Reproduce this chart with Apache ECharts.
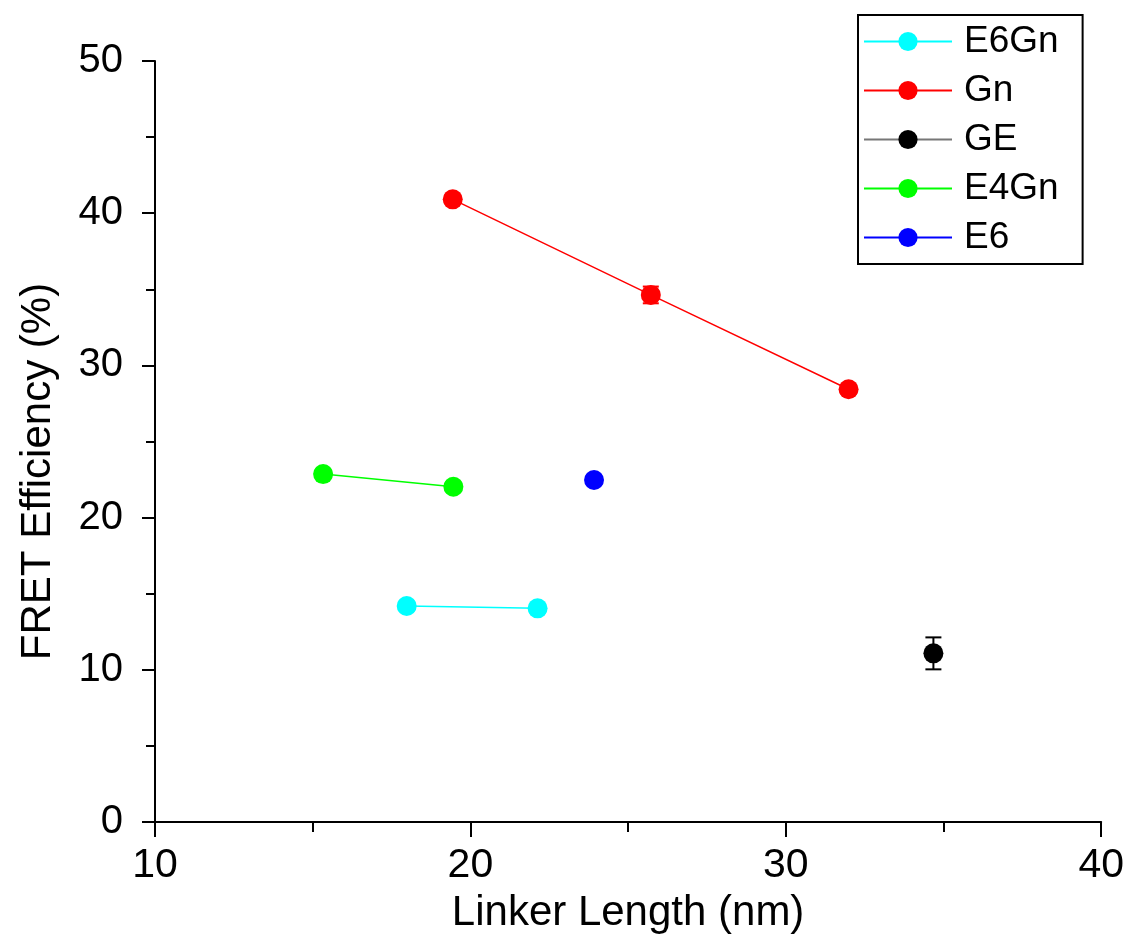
<!DOCTYPE html>
<html><head><meta charset="utf-8">
<script src="https://cdn.jsdelivr.net/npm/echarts@6/dist/echarts.min.js"></script>
<style>html,body{margin:0;padding:0;background:#fff}#c{width:1127px;height:941px}</style>
</head><body><div id="c"></div>
<script>
// ---- data ----
const seriesNames = ['E6Gn', 'Gn', 'GE', 'E4Gn', 'E6'];
const e6gnX = [17.98, 22.13];
const e6gnY = [14.19, 14.04];
const e6gnErr = [0.3, 0.3];
const gnX = [19.44, 25.72, 31.99];
const gnY = [40.91, 34.63, 28.43];
const gnErr = [0.3, 0.55, 0.3];
const geX = [34.68];
const geY = [11.08];
const geErr = [1.05];
const e4gnX = [15.33, 19.46];
const e4gnY = [22.86, 22.03];
const e4gnErr = [0.3, 0.3];
const e6X = [23.92];
const e6Y = [22.47];
const e6Err = [0.3];
const xTicks = [10, 20, 30, 40];
const yTicks = [0, 10, 20, 30, 40, 50];

// ---- styles ----
const colors = {E6Gn: '#00ffff', Gn: '#ff0000', GE: '#000000', E4Gn: '#00ff00', E6: '#0000ff'};
const lineColors = {E6Gn: '#00ffff', Gn: '#ff0000', GE: '#777777', E4Gn: '#00ff00', E6: '#0000ff'};
const FONT = 'Liberation Sans, Arial, sans-serif';

const groups = {
  E6Gn: [e6gnX, e6gnY, e6gnErr],
  Gn: [gnX, gnY, gnErr],
  GE: [geX, geY, geErr],
  E4Gn: [e4gnX, e4gnY, e4gnErr],
  E6: [e6X, e6Y, e6Err]
};

function errRender(params, api) {
  const x = api.value(0), y = api.value(1), e = api.value(2);
  const p1 = api.coord([x, y + e]);
  const p2 = api.coord([x, y - e]);
  const hw = 8;
  const style = {stroke: api.visual('color'), lineWidth: 2};
  return {type: 'group', children: [
    {type: 'line', shape: {x1: p1[0], y1: p1[1], x2: p2[0], y2: p2[1]}, style: style},
    {type: 'line', shape: {x1: p1[0] - hw, y1: p1[1], x2: p1[0] + hw, y2: p1[1]}, style: style},
    {type: 'line', shape: {x1: p2[0] - hw, y1: p2[1], x2: p2[0] + hw, y2: p2[1]}, style: style}
  ]};
}

const series = [];
seriesNames.forEach(function (n) {
  const g = groups[n];
  series.push({
    name: n + ' err', type: 'custom', renderItem: errRender, z: 2,
    itemStyle: {color: colors[n]},
    encode: {x: 0, y: 1},
    data: g[0].map(function (x, i) { return [x, g[1][i], g[2][i]]; })
  });
});
seriesNames.forEach(function (n) {
  const g = groups[n];
  series.push({
    name: n, type: 'line', z: 3,
    symbol: 'circle', symbolSize: 20,
    itemStyle: {color: colors[n]},
    lineStyle: {color: lineColors[n], width: 1.5},
    data: g[0].map(function (x, i) { return [x, g[1][i]]; })
  });
});

const chart = echarts.init(document.getElementById('c'), null, {renderer: 'canvas'});
chart.setOption({
  animation: false,
  backgroundColor: '#fff',
  grid: {left: 155, right: 25, top: 61, bottom: 119, containLabel: false},
  legend: {
    data: seriesNames,
    orient: 'vertical', left: 858, top: 15,
    itemWidth: 88, itemHeight: 24, itemGap: 12,
    padding: [8, 24, 8, 5],
    borderColor: '#000', borderWidth: 2,
    textStyle: {fontSize: 37, lineHeight: 34, color: '#000', fontFamily: FONT, padding: [0, 0, 0, 7]}
  },
  xAxis: {
    type: 'value', min: xTicks[0], max: xTicks[xTicks.length - 1], interval: 10,
    name: 'Linker Length (nm)', nameLocation: 'middle', nameGap: 70,
    nameTextStyle: {fontSize: 42, color: '#000', fontFamily: FONT},
    axisLine: {lineStyle: {color: '#000', width: 2}},
    axisTick: {length: 15, lineStyle: {color: '#000', width: 2}},
    minorTick: {show: true, splitNumber: 2, length: 10, lineStyle: {color: '#000', width: 2}},
    axisLabel: {fontSize: 41, color: '#000', fontFamily: FONT, margin: 23},
    splitLine: {show: false}
  },
  yAxis: {
    type: 'value', min: yTicks[0], max: yTicks[yTicks.length - 1], interval: 10,
    name: 'FRET Efficiency (%)', nameLocation: 'middle', nameGap: 96,
    nameTextStyle: {fontSize: 42, color: '#000', fontFamily: FONT, padding: [0, 60, 0, 0]},
    axisLine: {show: true, lineStyle: {color: '#000', width: 2}},
    axisTick: {show: true, length: 13, lineStyle: {color: '#000', width: 2}},
    minorTick: {show: true, splitNumber: 2, length: 9, lineStyle: {color: '#000', width: 2}},
    axisLabel: {fontSize: 40, color: '#000', fontFamily: FONT, margin: 32},
    splitLine: {show: false}
  },
  series: series
});
</script>
</body></html>
